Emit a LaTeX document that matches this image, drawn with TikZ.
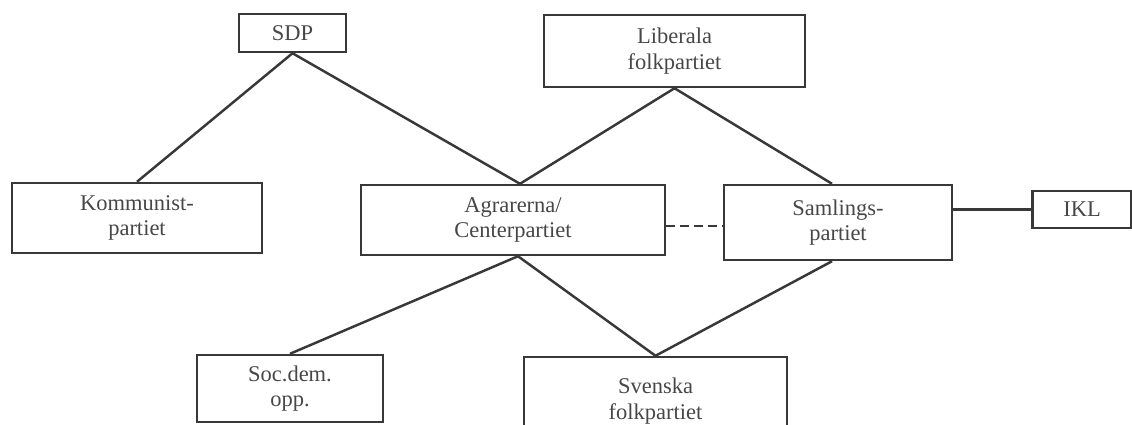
\documentclass[tikz,border=0pt]{standalone}
\usepackage{fontspec}
\setmainfont{Liberation Serif}

\begin{document}
\begin{tikzpicture}[x=0.02cm,y=-0.02cm,line width=1.4pt,draw=black!78,
  party/.style={draw,align=center,inner sep=0pt,text=black!72,font=\fontsize{12.8}{14.5}\selectfont},
  link/.style={draw=black!78,line width=1.4pt}]

  \useasboundingbox (0,0) rectangle (1132,424);

  \node[party,minimum width=2.14cm,minimum height=0.76cm] (sdp) at (292.5,33) {SDP};
  \node[party,minimum width=5.22cm,minimum height=1.44cm] (lib) at (674.5,51) {Liberala\\folkpartiet};
  \node[party,minimum width=5cm,minimum height=1.4cm] (komm) at (137,218) {Kommunist-\\partiet};
  \node[party,minimum width=6.08cm,minimum height=1.4cm] (agr) at (513,220) {Agrarerna/\\Centerpartiet};
  \node[party,minimum width=4.56cm,minimum height=1.5cm] (saml) at (838,222.5) {Samlings-\\partiet};
  \node[party,minimum width=1.98cm,minimum height=0.74cm] (ikl) at (1082,209.5) {IKL};
  \node[party,minimum width=3.72cm,minimum height=1.34cm] (soc) at (290,388.5) {Soc.dem.\\opp.};
  \node[party,minimum width=5.26cm,minimum height=1.76cm] (sv) at (655.5,401) {Svenska\\folkpartiet};

  \draw[link] (komm.north) -- (sdp.south) -- ([xshift=0.14cm]agr.north) -- (lib.south) -- ([xshift=-0.12cm]saml.north);
  \draw[link] (soc.north) -- ([xshift=0.1cm]agr.south) -- (sv.north) -- ([xshift=-0.12cm]saml.south);
  \draw[link,dashed,dash pattern=on 5pt off 3pt] ([yshift=-0.12cm]agr.east) -- ([yshift=-0.12cm]agr.east -| saml.west);
  \draw[link] (ikl.west -| saml.east) -- (ikl.west);

\end{tikzpicture}
\end{document}
